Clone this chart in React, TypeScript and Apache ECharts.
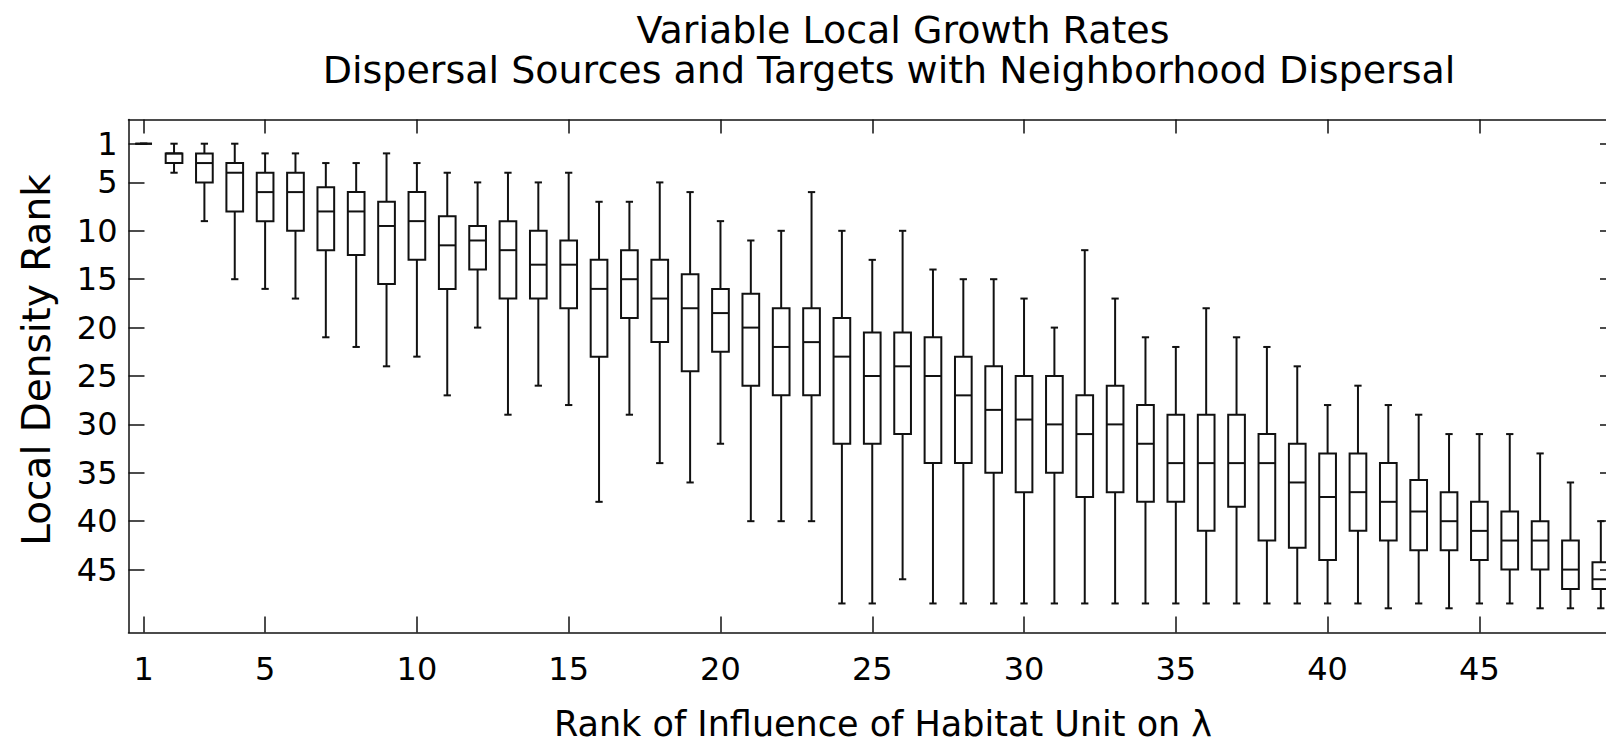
import React, { useEffect, useRef } from "react";
import * as echarts from "echarts";

// Rank of influence of habitat unit (x categories)
const habitatRank = [
  1, 2, 3, 4, 5, 6, 7, 8, 9, 10, 11, 12, 13, 14, 15, 16, 17, 18, 19, 20, 21, 22, 23, 24, 25,
  26, 27, 28, 29, 30, 31, 32, 33, 34, 35, 36, 37, 38, 39, 40, 41, 42, 43, 44, 45, 46, 47, 48, 49,
];
// Upper whisker end (smallest rank, drawn at top since axis is reversed)
const whiskerLow = [
  1, 1, 1, 1, 2, 2, 3, 3, 2, 3, 4, 5, 4, 5, 4, 7, 7, 5, 6, 9, 11, 10, 6, 10, 13,
  10, 14, 15, 15, 17, 20, 12, 17, 21, 22, 18, 21, 22, 24, 28, 26, 28, 29, 31, 31, 31, 33, 36, 40,
];
const quartile1 = [
  1, 2, 2, 3, 4, 4, 5.5, 6, 7, 6, 8.5, 9.5, 9, 10, 11, 13, 12, 13, 14.5, 16, 16.5, 18, 18, 19, 20.5,
  20.5, 21, 23, 24, 25, 25, 27, 26, 28, 29, 29, 29, 31, 32, 33, 33, 34, 35.75, 37, 38, 39, 40, 42, 44.25,
];
const median = [
  1, 2, 3, 4, 6, 6, 8, 8, 9.5, 9, 11.5, 11, 12, 13.5, 13.5, 16, 15, 17, 18, 18.5, 20, 22, 21.5, 23, 25,
  24, 25, 27, 28.5, 29.5, 30, 31, 30, 32, 34, 34, 34, 34, 36, 37.5, 37, 38, 39, 40, 41, 42, 42, 45, 46,
];
const quartile3 = [
  1, 3, 5, 8, 9, 10, 12, 12.5, 15.5, 13, 16, 14, 17, 17, 18, 23, 19, 21.5, 24.5, 22.5, 26, 27, 27, 32, 32,
  31, 34, 34, 35, 37, 35, 37.5, 37, 38, 38, 41, 38.5, 42, 42.75, 44, 41, 42, 43, 43, 44, 45, 45, 47, 47,
];
const whiskerHigh = [
  1, 4, 9, 15, 16, 17, 21, 22, 24, 23, 27, 20, 29, 26, 28, 38, 29, 34, 36, 32, 40, 40, 40, 48.5, 48.5,
  46, 48.5, 48.5, 48.5, 48.5, 48.5, 48.5, 48.5, 48.5, 48.5, 48.5, 48.5, 48.5, 48.5, 48.5, 48.5, 49, 48.5, 49, 48.5, 48.5, 49, 49, 49,
];

const xTicks = [1, 5, 10, 15, 20, 25, 30, 35, 40, 45];
const yTicks = [1, 5, 10, 15, 20, 25, 30, 35, 40, 45];

const titleLines = [
  "Variable Local Growth Rates",
  "Dispersal Sources and Targets with Neighborhood Dispersal",
];
const xName = "Rank of Influence of Habitat Unit on \u03bb";
const yName = "Local Density Rank";

const FONT = "'DejaVu Sans', 'Liberation Sans', Arial, sans-serif";
const INK = "#111";

export default function App() {
  const ref = useRef<HTMLDivElement>(null);

  useEffect(() => {
    if (!ref.current) return;
    const chart = echarts.init(ref.current, null, { renderer: "svg" });

    const data = habitatRank.map((x, i) => [
      x,
      whiskerLow[i],
      quartile1[i],
      median[i],
      quartile3[i],
      whiskerHigh[i],
    ]);

    const axisLine = { show: true, onZero: false, lineStyle: { color: INK, width: 1.5 } };

    const option: any = {
      animation: false,
      backgroundColor: "#fff",
      grid: {
        left: 128.5,
        top: 119.5,
        width: 1487.5,
        height: 513,
        containLabel: false,
        outerBoundsMode: "none",
        show: false,
      },
      xAxis: [
        {
          type: "value",
          position: "bottom",
          min: 0.5,
          max: 49.5,
          axisLine,
          axisTick: {
            show: true,
            inside: true,
            length: 16,
            customValues: xTicks,
            lineStyle: { color: INK, width: 1.5 },
          },
          axisLabel: {
            show: true,
            customValues: xTicks,
            margin: 20,
            fontSize: 32,
            fontFamily: FONT,
            color: "#000",
          },
          splitLine: { show: false },
        },
        {
          type: "value",
          position: "top",
          min: 0.5,
          max: 49.5,
          axisLine,
          axisTick: {
            show: true,
            inside: true,
            length: 14,
            customValues: xTicks,
            lineStyle: { color: INK, width: 1.5 },
          },
          axisLabel: { show: false, customValues: xTicks },
          splitLine: { show: false },
        },
      ],
      yAxis: [
        {
          type: "value",
          position: "left",
          inverse: true,
          min: -1.5,
          max: 51.5,
          axisLine,
          axisTick: {
            show: true,
            inside: true,
            length: 16,
            customValues: yTicks,
            lineStyle: { color: INK, width: 1.5 },
          },
          axisLabel: {
            show: true,
            customValues: yTicks,
            margin: 11,
            fontSize: 32,
            fontFamily: FONT,
            color: "#000",
          },
          splitLine: { show: false },
        },
        {
          type: "value",
          position: "right",
          inverse: true,
          min: -1.5,
          max: 51.5,
          axisLine,
          axisTick: {
            show: true,
            inside: true,
            length: 16,
            customValues: yTicks,
            lineStyle: { color: INK, width: 1.5 },
          },
          axisLabel: { show: false, customValues: yTicks },
          splitLine: { show: false },
        },
      ],
      graphic: [
        {
          type: "text",
          x: 903,
          y: 30,
          silent: true,
          style: {
            text: titleLines[0],
            fontSize: 38,
            lineHeight: 36,
            fontFamily: FONT,
            fill: "#000",
            align: "center",
            verticalAlign: "middle",
          },
        },
        {
          type: "text",
          x: 889,
          y: 70,
          silent: true,
          style: {
            text: titleLines[1],
            fontSize: 38,
            lineHeight: 36,
            fontFamily: FONT,
            fill: "#000",
            align: "center",
            verticalAlign: "middle",
          },
        },
        {
          type: "text",
          x: 883,
          y: 724,
          silent: true,
          style: {
            text: xName,
            fontSize: 35,
            fontFamily: FONT,
            fill: "#000",
            align: "center",
            verticalAlign: "middle",
          },
        },
        {
          type: "text",
          x: 36,
          y: 360,
          rotation: Math.PI / 2,
          silent: true,
          style: {
            text: yName,
            fontSize: 39,
            fontFamily: FONT,
            fill: "#000",
            align: "center",
            verticalAlign: "middle",
          },
        },
      ],
      series: [
        {
          type: "custom",
          xAxisIndex: 0,
          yAxisIndex: 0,
          silent: true,
          clip: false,
          encode: { x: 0, y: [1, 2, 3, 4, 5] },
          data,
          renderItem: (params: any, api: any) => {
            const x = api.value(0);
            const cx = api.coord([x, api.value(1)])[0];
            const yLo = api.coord([x, api.value(1)])[1];
            const yQ1 = api.coord([x, api.value(2)])[1];
            const yMed = api.coord([x, api.value(3)])[1];
            const yQ3 = api.coord([x, api.value(4)])[1];
            const yHi = api.coord([x, api.value(5)])[1];
            const unit = api.size([1, 0])[0];
            const hw = unit * 0.275;
            const cw = unit * 0.12;
            const style = { stroke: INK, lineWidth: 2, fill: "none" };
            const top = Math.min(yQ1, yQ3);
            const h = Math.abs(yQ3 - yQ1);
            return {
              type: "group",
              children: [
                { type: "line", shape: { x1: cx, y1: yLo, x2: cx, y2: yQ1 }, style },
                { type: "line", shape: { x1: cx, y1: yQ3, x2: cx, y2: yHi }, style },
                { type: "line", shape: { x1: cx - cw, y1: yLo, x2: cx + cw, y2: yLo }, style },
                { type: "line", shape: { x1: cx - cw, y1: yHi, x2: cx + cw, y2: yHi }, style },
                { type: "rect", shape: { x: cx - hw, y: top, width: hw * 2, height: h }, style },
                { type: "line", shape: { x1: cx - hw, y1: yMed, x2: cx + hw, y2: yMed }, style },
              ],
            };
          },
        },
      ],
    };

    chart.setOption(option);
    return () => chart.dispose();
  }, []);

  return (
    <div
      style={{
        position: "fixed",
        left: 0,
        top: 0,
        width: 1606,
        height: 743,
        overflow: "hidden",
        background: "#fff",
      }}
    >
      <div ref={ref} style={{ width: 1640, height: 743 }} />
    </div>
  );
}
